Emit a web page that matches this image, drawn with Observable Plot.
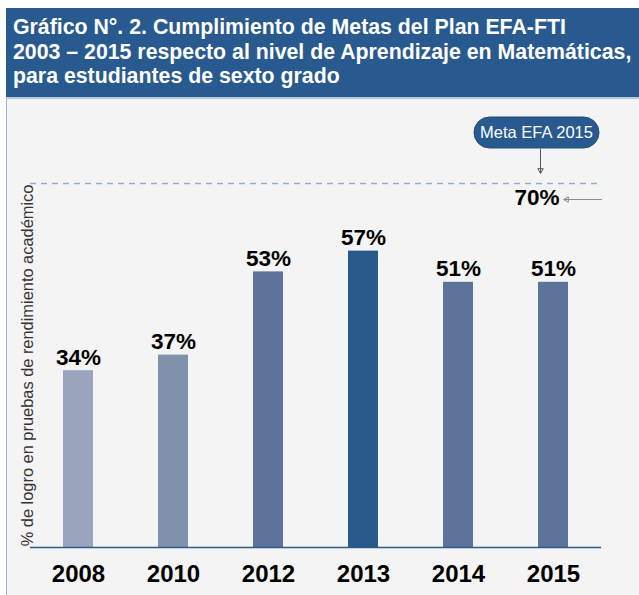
<!DOCTYPE html>
<html>
<head>
<meta charset="utf-8">
<script src="https://cdn.jsdelivr.net/npm/d3@7"></script>
<script src="https://cdn.jsdelivr.net/npm/@observablehq/plot@0.6"></script>
<style>
  html, body { margin: 0; padding: 0; background: #ffffff; }
  body { width: 639px; height: 595px; position: relative; overflow: hidden; font-family: "Liberation Sans", Arial, sans-serif; }
  #wrap { position: absolute; left: 6px; top: 8px; width: 633px; }
  #header { height: 89px; background: #285a8f; color: #ffffff; box-sizing: border-box; padding: 7px 0 0 7px;
            font-weight: bold; font-size: 21.3px; line-height: 24.5px; white-space: nowrap; }
  #sep { height: 2px; background: #b8c8dc; }
  #panel { height: 496px; background: #f4f4f4; border-left: 1.5px solid #9fb3cf; box-sizing: border-box; }
  #chart svg g[aria-label^="x-axis"] text { font-family: "Liberation Sans", Arial, sans-serif;
            font-weight: bold; font-size: 24px; fill: #000; }
</style>
</head>
<body>
<div id="wrap">
  <div id="header">Gráfico N°. 2. Cumplimiento de Metas del Plan EFA-FTI<br>2003 – 2015 respecto al nivel de Aprendizaje en Matemáticas,<br>para estudiantes de sexto grado</div>
  <div id="sep"></div>
  <div id="panel"><div id="chart"></div></div>
</div>
<script>
const years = ["2008", "2010", "2012", "2013", "2014", "2015"];
const values = [34, 37, 53, 57, 51, 51];
const barColors = ["#9aa5bd", "#8091ac", "#5d7399", "#285a8c", "#5d7399", "#5d7399"];
const goalValue = 70;
const goalLabel = "Meta EFA 2015";
const yLabel = "% de logro en pruebas de rendimiento académico";

const data = years.map((year, i) => ({year, value: values[i]}));

// small arrow shape: line from origin to tip, tiny head at tip
const arrowShape = {
  draw(context, l) {
    context.moveTo(0, 0);
    context.lineTo(0, -l + 1);
    context.moveTo(-2.5, -l + 4.5);
    context.lineTo(0, -l);
    context.lineTo(2.5, -l + 4.5);
    context.closePath();
  }
};

// rounded pill symbol for the goal label
const pillSymbol = {
  draw(context) {
    const w = 125, h = 31, r = 15.5;
    const x0 = -w / 2, x1 = w / 2, y0 = -h / 2, y1 = h / 2;
    context.moveTo(x0 + r, y0);
    context.lineTo(x1 - r, y0);
    context.arcTo(x1, y0, x1, y0 + r, r);
    context.arcTo(x1, y1, x1 - r, y1, r);
    context.lineTo(x0 + r, y1);
    context.arcTo(x0, y1, x0, y1 - r, r);
    context.arcTo(x0, y0, x0 + r, y0, r);
    context.closePath();
  }
};

const chart = Plot.plot({
  width: 632,
  height: 494,
  marginLeft: 23,
  marginRight: 38,
  marginTop: 84,
  marginBottom: 46,
  style: { background: "transparent", fontFamily: "'Liberation Sans', Arial, sans-serif", color: "#000" },
  x: { domain: years, paddingInner: 0.687, paddingOuter: 0.32, axis: "bottom", tickSize: 0, tickPadding: 17, label: null },
  y: { domain: [0, goalValue], axis: null },
  color: { domain: years, range: barColors },
  marks: [
    Plot.ruleY([goalValue], { stroke: "#8eaad3", strokeWidth: 1.3, strokeDasharray: "6,5" }),
    Plot.barY(data, { x: "year", y: "value", fill: "year" }),
    Plot.ruleY([0], { stroke: "#2a5a8e", strokeWidth: 1.6 }),
    Plot.text(data, { x: "year", y: "value", text: d => d.value + "%", lineAnchor: "bottom", dy: -6,
                      fontSize: 22.5, fontWeight: "bold", fill: "#000" }),
    Plot.text([yLabel], { frameAnchor: "left", textAnchor: "middle", rotate: -90, dx: -3, fontSize: 16.4, fill: "#333" }),
    Plot.text([goalValue], { y: d => d, text: d => d + "%", frameAnchor: "right", textAnchor: "end",
                             dx: -42, dy: 14, fontSize: 22.5, fontWeight: "bold", fill: "#000" }),
    Plot.vector([goalValue], { y: d => d, frameAnchor: "right", rotate: -90, anchor: "start", length: 38,
                               shape: arrowShape, dy: 16, stroke: "#8a8a8a", strokeWidth: 1 }),
    Plot.vector([goalValue], { y: d => d, frameAnchor: "right", rotate: 180, anchor: "end", length: 24,
                               shape: arrowShape, dx: -61, dy: -10, stroke: "#555", strokeWidth: 1 }),
    Plot.dot([goalValue], { y: d => d, frameAnchor: "right", dx: -65, dy: -51, symbol: pillSymbol, r: 10,
                            fill: "#285a8f", stroke: "#1f4c7e", strokeWidth: 1 }),
    Plot.text([goalLabel], { y: () => goalValue, frameAnchor: "right", textAnchor: "middle", dx: -65, dy: -51,
                             fontSize: 16.5, fill: "#ffffff" })
  ]
});
document.getElementById("chart").appendChild(chart);
</script>
</body>
</html>
